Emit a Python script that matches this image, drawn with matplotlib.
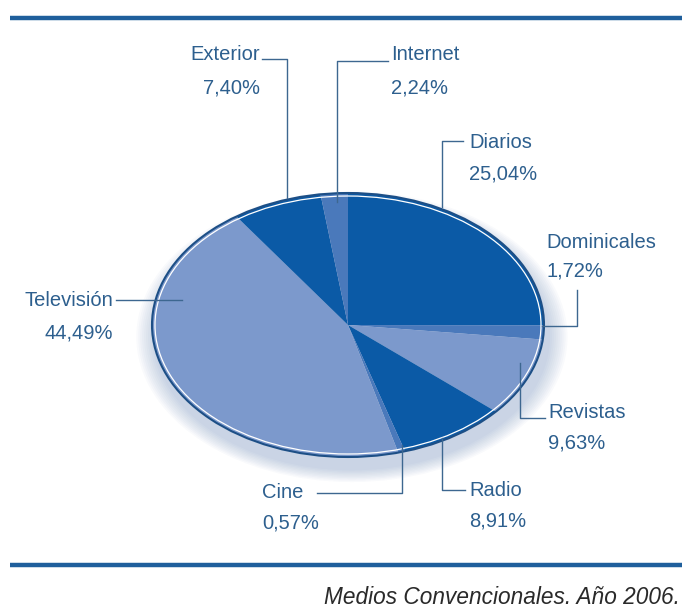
import numpy as np
import matplotlib.pyplot as plt
from matplotlib.patches import Ellipse

# Inversión publicitaria por medio, 2006 (%)
medios = ['Diarios', 'Dominicales', 'Revistas', 'Radio', 'Cine',
          'Televisión', 'Exterior', 'Internet']
porcentajes = [25.04, 1.72, 9.63, 8.91, 0.57, 44.49, 7.40, 2.24]

DARK = '#0b5aa6'
MID = '#4a79bb'
LIGHT = '#7c99cc'
colores = [DARK, MID, LIGHT, DARK, MID, LIGHT, DARK, MID]

TEXT_C = '#2d5f8e'
LINE_C = '#3d6790'
RULE_C = '#1f5f9c'

# label placement in pixels: (x, y of name, y of value, alignment)
label_pos = {
    'Exterior':    (260, 55, 88, 'right'),
    'Internet':    (391, 55, 88, 'left'),
    'Diarios':     (469, 143, 174, 'left'),
    'Dominicales': (546, 242, 271, 'left'),
    'Televisión':  (113, 300, 333, 'right'),
    'Revistas':    (548, 413, 443, 'left'),
    'Radio':       (469, 490, 521, 'left'),
    'Cine':        (262, 492, 523, 'left'),
}
# leader lines in pixels
leaders = {
    'Exterior':    [(262, 59), (287, 59), (287, 198)],
    'Internet':    [(388, 61), (337, 61), (337, 202)],
    'Diarios':     [(463, 141), (442, 141), (442, 207)],
    'Dominicales': [(577, 290), (577, 326), (542, 326)],
    'Televisión':  [(116, 300), (182, 300)],
    'Revistas':    [(545, 418), (520, 418), (520, 363)],
    'Radio':       [(465, 490), (442, 490), (442, 438)],
    'Cine':        [(317, 493), (402, 493), (402, 445)],
}

W, H = 682, 612
fig = plt.figure(figsize=(W / 100, H / 100), dpi=100)
fig.patch.set_facecolor('white')

# squashed pie: circle pie in an axes whose box is the ellipse bounds
cx, cy, a, b = 348, 325, 196, 132
pax = fig.add_axes([(cx - a) / W, 1 - (cy + b) / H, 2 * a / W, 2 * b / H])

# soft shadow, mostly below the pie
for k in range(10):
    s = 1.0 + 0.01 * (k + 1)
    pax.add_patch(Ellipse((0.02, -0.09), 2 * s, 2 * s,
                          facecolor='#5d7fb5', edgecolor='none',
                          alpha=0.035, clip_on=False, zorder=0))

pax.pie(porcentajes, colors=colores, startangle=90, counterclock=False,
        radius=1, wedgeprops=dict(linewidth=0), normalize=True)
pax.set_aspect('auto')
pax.set_xlim(-1, 1)
pax.set_ylim(-1, 1)
pax.axis('off')
pax.add_patch(Ellipse((0, 0), 2, 2, facecolor='none', edgecolor='#1d4f86',
                      lw=1.5, clip_on=False, zorder=5))
pax.add_patch(Ellipse((0, 0), 2 - 6 / a, 2 - 6 / b, facecolor='none',
                      edgecolor='white', lw=0.9, clip_on=False, zorder=5))

# overlay in pixel coordinates for rules, labels and leaders
ax = fig.add_axes([0, 0, 1, 1])
ax.set_xlim(0, W)
ax.set_ylim(H, 0)
ax.axis('off')
ax.patch.set_alpha(0)

ax.plot([10, W], [18, 18], color=RULE_C, lw=3.2, solid_capstyle='butt')
ax.plot([10, W], [565, 565], color=RULE_C, lw=3.2, solid_capstyle='butt')

fam = ['Liberation Sans Narrow', 'Liberation Sans', 'DejaVu Sans']
for nombre, pct in zip(medios, porcentajes):
    x, yn, yv, ha = label_pos[nombre]
    ax.text(x, yn, nombre, ha=ha, va='center', fontsize=14.5,
            color=TEXT_C, family=fam)
    ax.text(x, yv, f'{pct:.2f}%'.replace('.', ','), ha=ha, va='center',
            fontsize=14.5, color=TEXT_C, family=fam)
    xs, ys = zip(*leaders[nombre])
    ax.plot(xs, ys, color=LINE_C, lw=1.0)

ax.text(680, 598, 'Medios Convencionales. Año 2006.', ha='right',
        va='center', fontsize=16.3, style='italic', color='#2a2a2a',
        family=['Liberation Sans', 'DejaVu Sans'])

fig.savefig('out.png', dpi=100)
